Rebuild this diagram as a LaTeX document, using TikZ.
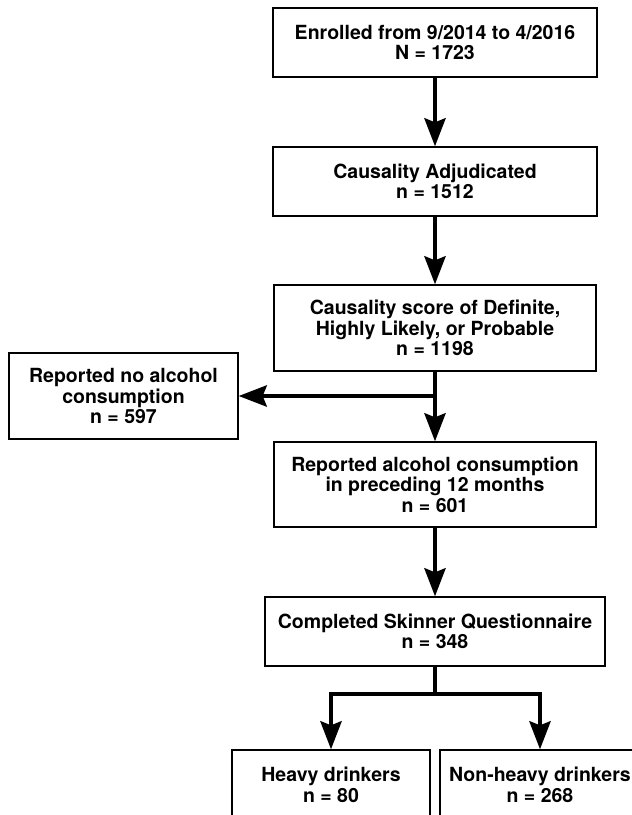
\documentclass[tikz,border=0pt]{standalone}
\usepackage{fontspec}
\setmainfont{TeX Gyre Heros}
\usetikzlibrary{arrows.meta}

\begin{document}
\begin{tikzpicture}[x=1pt,y=1pt,yscale=-1,xscale=1,
		box/.style={draw, line width=1.3pt, align=center, inner sep=0pt, font=\bfseries\fontsize{19.5}{20.5}\selectfont},
		flow/.style={line width=4.5pt, -{Stealth[length=28pt,width=21pt,inset=4pt]}},
		bar/.style={line width=4.5pt}]

		% Set diagram frame: width 632, height 815, bottom row runs off the page
		\useasboundingbox (0,0) rectangle (632,815);
		\clip (0,0) rectangle (632,815);

		% Draw the boxes of the main column
		\node[box, minimum width=324, minimum height=69] (enroll) at (435,42.5) {Enrolled from 9/2014 to 4/2016\\N = 1723};
		\node[box, minimum width=324, minimum height=69] (adjud) at (435,181.5) {Causality Adjudicated\\n = 1512};
		\node[box, minimum width=322, minimum height=86] (score) at (435,328) {Causality score of Definite,\\Highly Likely, or Probable\\n = 1198};
		\node[box, minimum width=322, minimum height=85] (alcohol) at (435,484.5) {Reported alcohol consumption\\in preceding 12 months\\n = 601};
		\node[box, minimum width=340, minimum height=69] (skinner) at (435,631.5) {Completed Skinner Questionnaire\\n = 348};

		% Draw the box on the left
		\node[box, minimum width=229, minimum height=86] (noalcohol) at (123.5,396) {Reported no alcohol\\consumption\\n = 597};

		% Draw the two boxes at the bottom
		\node[box, minimum width=198, minimum height=70] (heavy) at (331,785) {Heavy drinkers\\n = 80};
		\node[box, minimum width=200, minimum height=70] (nonheavy) at (540,785) {Non-heavy drinkers\\n = 268};

		% Draw the arrows down the main column
		\draw[flow] (enroll) -- (adjud);
		\draw[flow] (adjud) -- (score);
		\draw[flow] (score) -- (alcohol);
		\draw[flow] (alcohol) -- (skinner);

		% Draw the side branch to the left box
		\coordinate (split) at (score.south |- noalcohol.east);
		\draw[flow] (split) -- (noalcohol);

		% Draw the fork to the bottom boxes
		\coordinate (fork) at (435,694);
		\draw[bar] (skinner) -- (fork);
		\draw[flow] (fork) -| (heavy);
		\draw[flow] (fork) -| (nonheavy);
	\end{tikzpicture}
\end{document}
